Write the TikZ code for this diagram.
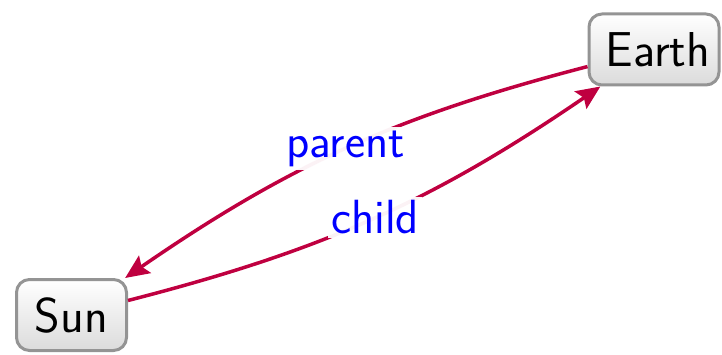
\documentclass[tikz,border=0pt]{standalone}
\usepackage{fontspec}
\usetikzlibrary{arrows.meta}
\begin{document}
\begin{tikzpicture}[x=1pt,y=1pt,
  box/.style={draw=black!42, line width=3pt, rounded corners=13pt,
    top color=white, bottom color=black!14, minimum height=71pt,
    inner sep=0pt, font=\sffamily\fontsize{49}{56}\selectfont},
  link/.style={draw=purple, line width=3.5pt,
    -{Stealth[length=24pt,width=21pt,inset=4pt]}},
  lbl/.style={font=\sffamily\fontsize{48}{56}\selectfont, text=blue,
    fill=white, fill opacity=0.95, text opacity=1}]
\useasboundingbox (0,0) rectangle (722,-355);
\node[box, minimum width=110pt] (sun) at (71.5,-315) {Sun};
\node[box, minimum width=130pt] (earth) at (654,-49.5) {\hspace{8pt}Earth};
\draw[link] (earth) to[bend right=10] node[lbl] (parent) {parent} (sun);
\draw[link] (sun) to[bend right=10] node[lbl] (child) {child} (earth);
\end{tikzpicture}
\end{document}
